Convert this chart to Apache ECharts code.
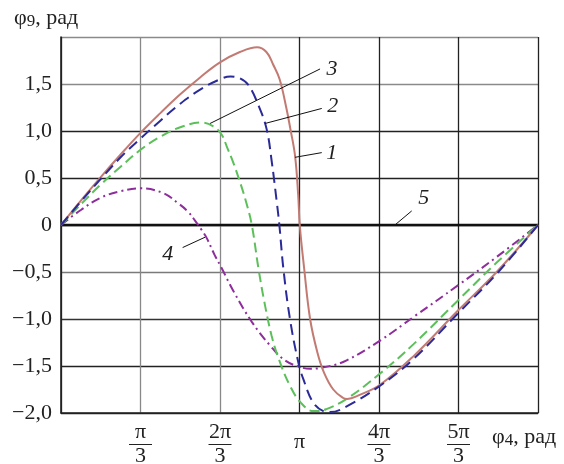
<!DOCTYPE html>
<html>
<head>
<meta charset="utf-8">
<script src="https://cdn.jsdelivr.net/npm/echarts@6/dist/echarts.min.js"></script>
<style>
  html, body { margin: 0; padding: 0; background: #fff; }
  #chart { width: 564px; height: 464px; }
</style>
</head>
<body>
<div id="chart"></div>
<script>
// φ4 in degrees (0..360), φ9 in radians
const curve1X = [0, 15, 30, 45, 60, 75, 90, 105, 120, 135, 148, 155, 160, 165, 170, 173, 176.6, 179, 180.2, 183.5, 188, 193.4, 198.5, 205.5, 213, 216, 225, 240.8, 265.7, 299.6, 328.8, 360];
const curve1Y = [0, 0.26, 0.51, 0.75, 0.98, 1.19, 1.39, 1.57, 1.73, 1.84, 1.89, 1.84, 1.71, 1.55, 1.25, 1.03, 0.74, 0.32, 0, -0.46, -1.0, -1.35, -1.57, -1.75, -1.84, -1.85, -1.81, -1.70, -1.40, -0.91, -0.50, 0];

const curve2X = [0, 15, 30, 45, 60, 75, 90, 106, 115, 121.3, 125.5, 129.6, 135, 139.6, 144, 149, 153.5, 159, 164.5, 172.8, 181, 190.4, 193, 200, 215.6, 240.8, 265.9, 299.8, 328.8, 360];
const curve2Y = [0, 0.22, 0.43, 0.62, 0.80, 0.94, 1.04, 1.09, 1.05, 0.96, 0.82, 0.68, 0.46, 0.25, 0, -0.46, -0.82, -1.18, -1.43, -1.71, -1.89, -1.98, -1.98, -1.96, -1.85, -1.58, -1.27, -0.80, -0.40, 0];

const curve3X = [0, 15, 30, 45, 60, 75, 90, 105, 120, 128, 135, 141.4, 149.4, 155.2, 159, 162.8, 164.8, 167.8, 172.8, 179.1, 182.9, 190.4, 198, 203, 215.6, 240.8, 265.7, 299.6, 328.8, 360];
const curve3Y = [0, 0.25, 0.49, 0.72, 0.92, 1.11, 1.29, 1.44, 1.55, 1.58, 1.56, 1.49, 1.26, 1.02, 0.68, 0.25, 0, -0.46, -1.0, -1.46, -1.64, -1.89, -1.98, -1.99, -1.93, -1.71, -1.43, -0.94, -0.52, 0];

const curve4X = [0, 15, 30, 45, 60, 77, 88.5, 96, 101, 106, 110, 116, 121.3, 130, 144, 157.7, 169, 180.4, 187.9, 203, 215.6, 240.8, 265.9, 299.8, 328.8, 360];
const curve4Y = [0, 0.16, 0.29, 0.36, 0.39, 0.34, 0.23, 0.14, 0.05, -0.05, -0.14, -0.32, -0.46, -0.70, -1.03, -1.28, -1.44, -1.51, -1.53, -1.50, -1.44, -1.23, -0.98, -0.64, -0.34, 0];

const curve5X = [0, 360];
const curve5Y = [0, 0];

// x tick labels (degrees -> multiples of π/3)
const xTickNum = { 60: 'π', 120: '2π', 240: '4π', 300: '5π' };
const xTickDen = '3';
const yTickSkip = [2];

const pairs = (xs, ys) => xs.map((x, i) => [x, ys[i]]);

const serif = '"Liberation Serif", "DejaVu Serif", serif';

const chart = echarts.init(document.getElementById('chart'), null, { renderer: 'canvas' });

const yGridColors = ['#222', '#222', '#333', '#7a7a7a', '#222', '#222', '#222', '#8a8a8a', '#8a8a8a'];
const xGridColors = ['#222', '#888', '#888', '#222', '#222', '#222', '#222'];

chart.setOption({
  animation: false,
  backgroundColor: '#fff',
  grid: { left: 61, right: 26, top: 37, bottom: 51, containLabel: false, outerBoundsMode: 'none' },
  xAxis: {
    type: 'value',
    min: 0, max: 360, interval: 60,
    axisLine: { show: true, onZero: false, lineStyle: { color: '#222', width: 1.6 } },
    axisTick: { show: false },
    splitLine: { show: true, lineStyle: { color: xGridColors, width: 1.3 } },
    axisLabel: {
      margin: 10,
      color: '#222',
      fontFamily: serif,
      fontSize: 22,
      verticalAlign: 'top',
      formatter: function (v) {
        if (v === 180) return '{p|π}';
        if (xTickNum[v]) return '{n|' + xTickNum[v] + '}\n{b| }\n{d|' + xTickDen + '}';
        return '';
      },
      rich: {
        n: { fontFamily: serif, fontSize: 22, lineHeight: 19, color: '#222' },
        b: { width: 23, height: 1, lineHeight: 5, backgroundColor: '#222', fontSize: 4 },
        d: { fontFamily: serif, fontSize: 22, lineHeight: 19, color: '#222' },
        p: { fontFamily: serif, fontSize: 22, lineHeight: 38, color: '#222' }
      }
    }
  },
  yAxis: {
    type: 'value',
    min: -2, max: 2, interval: 0.5,
    axisLine: { show: true, onZero: false, lineStyle: { color: '#222', width: 1.6 } },
    axisTick: { show: false },
    splitLine: { show: true, lineStyle: { color: yGridColors, width: 1.3 } },
    axisLabel: {
      margin: 9,
      color: '#222',
      fontFamily: serif,
      fontSize: 22,
      formatter: function (v) {
        if (yTickSkip.indexOf(v) >= 0) return '';
        if (v === 0) return '0';
        const s = Math.abs(v).toFixed(1).replace('.', ',');
        return v < 0 ? '\u2212' + s : s;
      }
    }
  },
  series: [
    {
      name: '1', type: 'line', data: pairs(curve1X, curve1Y),
      showSymbol: false, smooth: 0.4, z: 5,
      lineStyle: { color: '#c27a72', width: 2 }
    },
    {
      name: '2', type: 'line', data: pairs(curve2X, curve2Y),
      showSymbol: false, smooth: 0.4, z: 4,
      lineStyle: { color: '#5cc05a', width: 2, type: [10, 5] }
    },
    {
      name: '3', type: 'line', data: pairs(curve3X, curve3Y),
      showSymbol: false, smooth: 0.4, z: 6,
      lineStyle: { color: '#2a2a98', width: 2, type: [11, 6] }
    },
    {
      name: '4', type: 'line', data: pairs(curve4X, curve4Y),
      showSymbol: false, smooth: 0.4, z: 3,
      lineStyle: { color: '#8e2d9c', width: 2, type: [9, 4, 2, 4] }
    },
    {
      name: '5', type: 'line', data: pairs(curve5X, curve5Y),
      showSymbol: false, z: 2,
      lineStyle: { color: '#111', width: 2.5 }
    }
  ]
});

// callouts: leader line from a point on the curve to the number, in data coordinates
const callouts = [
  { text: '3', from: [112.5, 1.08], to: [195.5, 1.66], dx: 12, dy: 0 },
  { text: '2', from: [154, 1.08], to: [196.8, 1.24], dx: 11, dy: -2 },
  { text: '1', from: [176.6, 0.72], to: [196.8, 0.77], dx: 10, dy: 1 },
  { text: '5', from: [252, 0], to: [264.7, 0.15], dx: 12, dy: -13 },
  { text: '4', from: [108.7, -0.13], to: [91.8, -0.24], dx: -15, dy: 7 }
];

const graphics = [];
callouts.forEach(function (c) {
  const p1 = chart.convertToPixel({ xAxisIndex: 0, yAxisIndex: 0 }, c.from);
  const p2 = chart.convertToPixel({ xAxisIndex: 0, yAxisIndex: 0 }, c.to);
  graphics.push({
    type: 'line', z: 20,
    shape: { x1: p1[0], y1: p1[1], x2: p2[0], y2: p2[1] },
    style: { stroke: '#111', lineWidth: 1 }
  });
  graphics.push({
    type: 'text', z: 20,
    x: p2[0] + c.dx, y: p2[1] + c.dy,
    style: {
      text: c.text, fill: '#222', font: 'italic 22px ' + serif,
      align: 'center', verticalAlign: 'middle'
    }
  });
});

// axis names
graphics.push({
  type: 'text', left: 14, top: 7, z: 20,
  style: {
    text: '{a|φ}{s|9}{a|, рад}',
    rich: {
      a: { fontFamily: serif, fontSize: 22, fill: '#222' },
      s: { fontFamily: serif, fontSize: 17, fill: '#222', padding: [7, 0, 0, 0] }
    }
  }
});
graphics.push({
  type: 'text', left: 492, top: 426, z: 20,
  style: {
    text: '{a|φ}{s|4}{a|, рад}',
    rich: {
      a: { fontFamily: serif, fontSize: 22, fill: '#222' },
      s: { fontFamily: serif, fontSize: 17, fill: '#222', padding: [7, 0, 0, 0] }
    }
  }
});

chart.setOption({ graphic: graphics });
</script>
</body>
</html>
